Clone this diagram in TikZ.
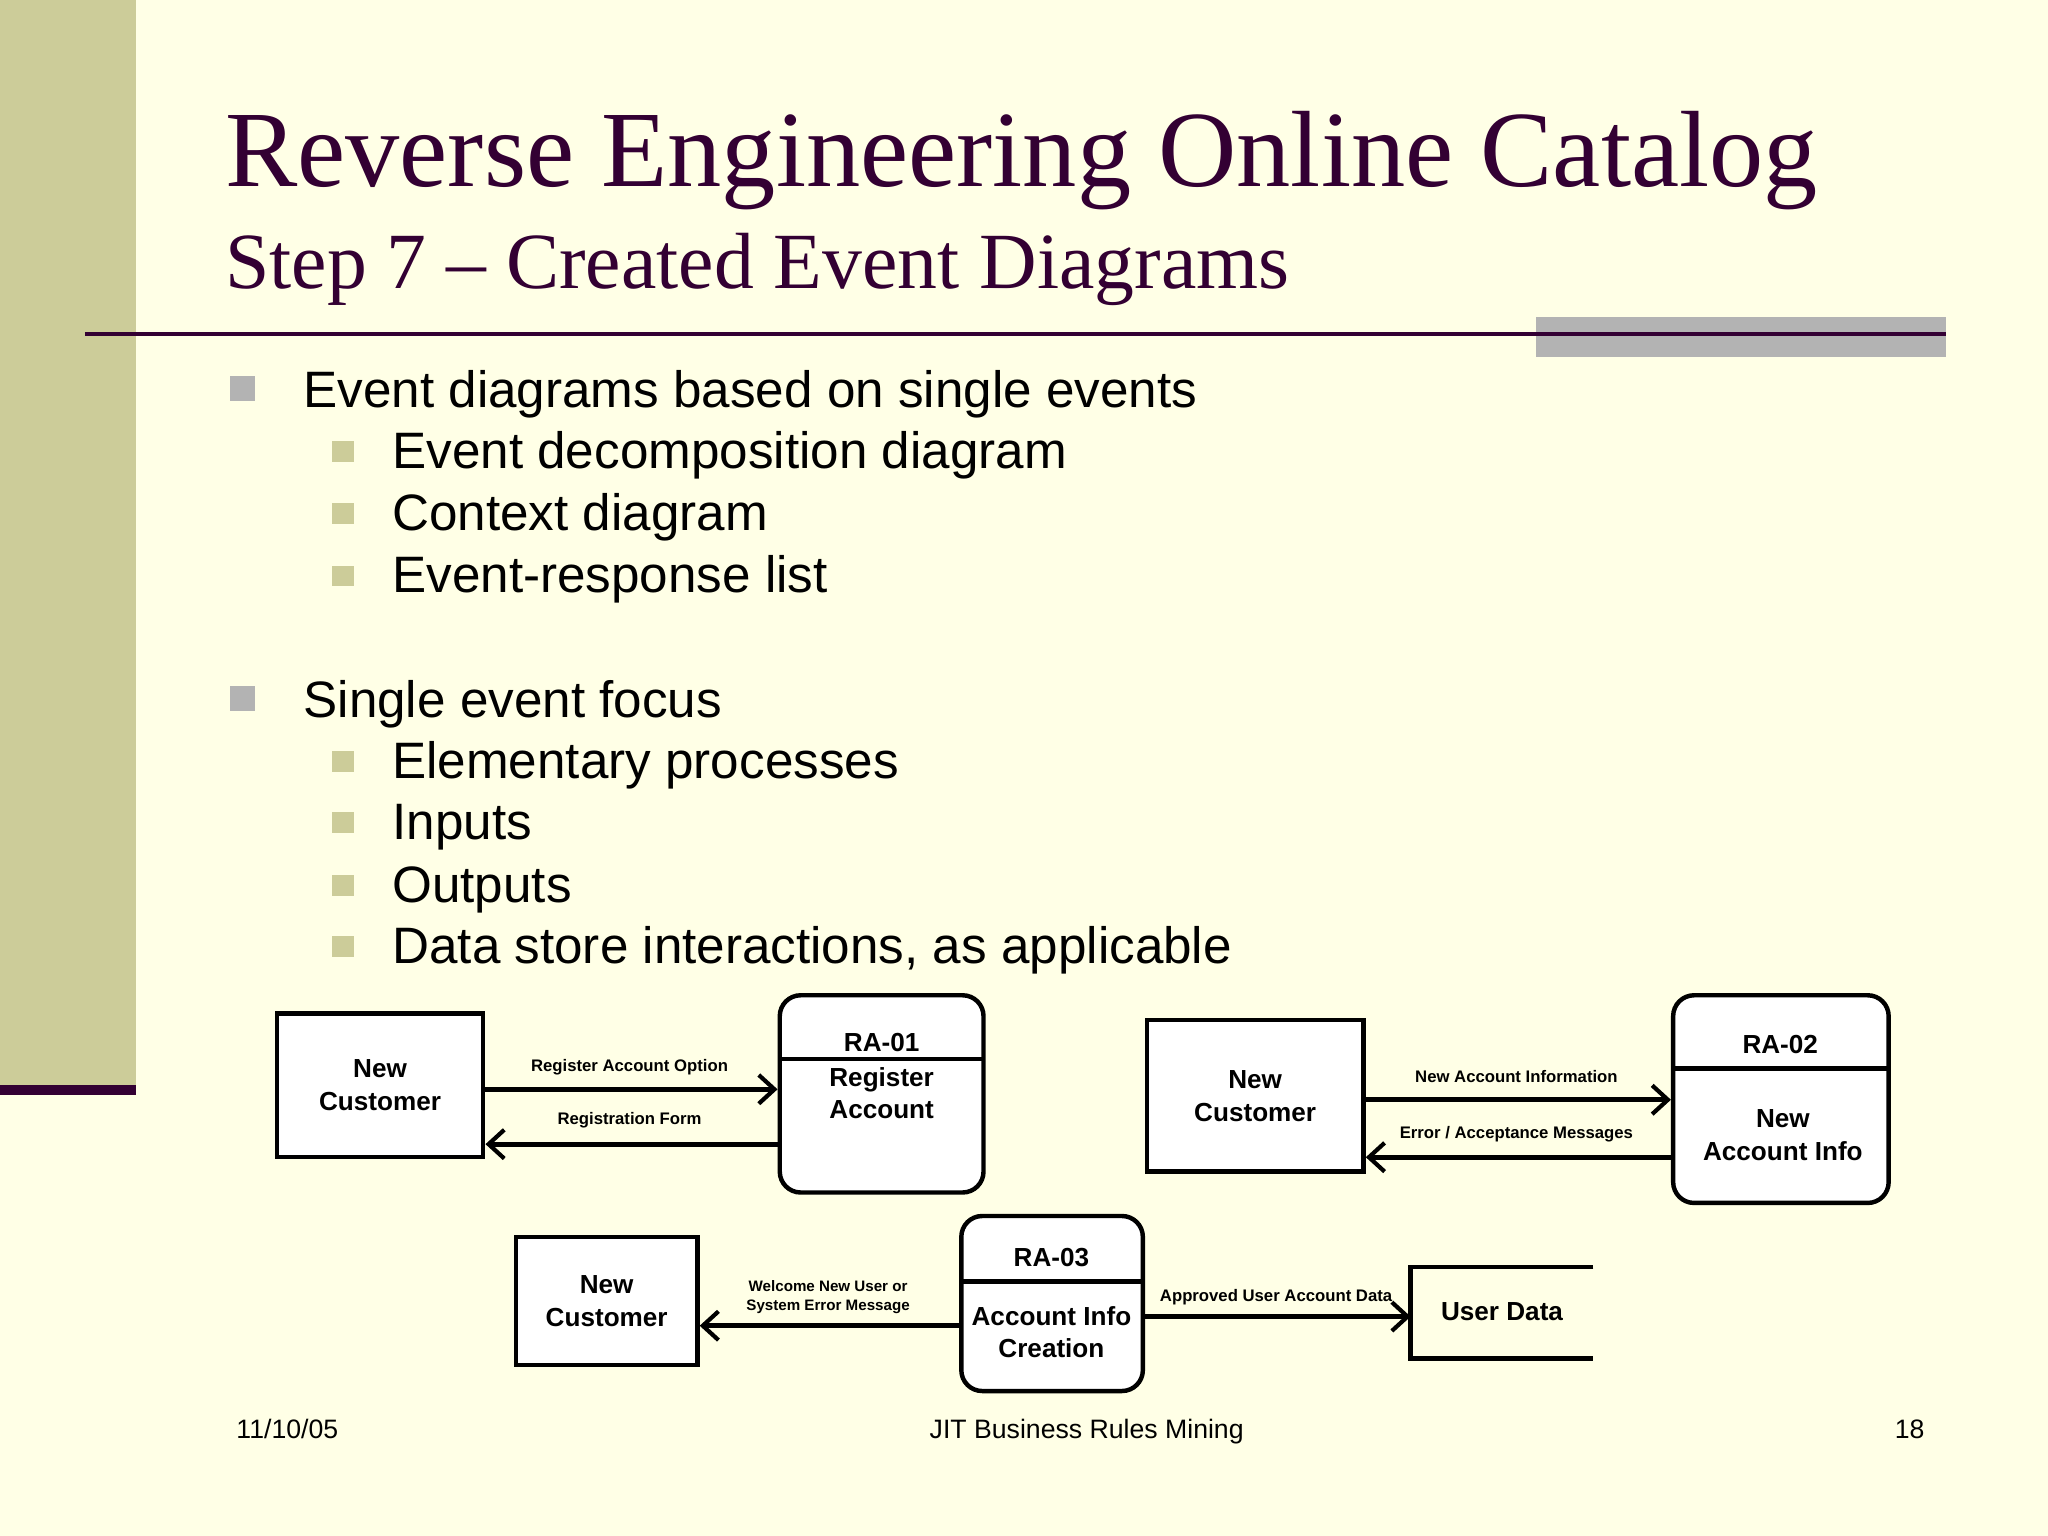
\documentclass[tikz,border=0pt]{standalone}
\usepackage{fontspec}
\setmainfont{Liberation Sans}
\newfontfamily\serifT{Liberation Serif}
\usetikzlibrary{arrows.meta}
\definecolor{bg}{HTML}{FFFFE6}
\definecolor{olive}{HTML}{CCCC99}
\definecolor{dpurple}{HTML}{330033}
\definecolor{gbul}{HTML}{B3B3B3}
\begin{document}
\begin{tikzpicture}[x=0.5pt,y=-0.5pt,
 box/.style={draw,line width=1.7pt,fill=white,minimum width=#1},
 proc/.style={draw,line width=1.7pt,fill=white,rounded corners=8pt},
 arr/.style={line width=1.8pt,-{Straight Barb[length=6pt,width=11pt,line width=1.6pt]}},
 lab/.style={font=\fontsize{6.4}{7.5}\selectfont\bfseries,align=center},
 btxt/.style={font=\fontsize{10}{12.5}\selectfont\bfseries,align=center},
 b1/.style={anchor=base west,font=\fontsize{19.6}{22}\selectfont},
 ft/.style={font=\fontsize{10.2}{12}\selectfont,anchor=base}]
\useasboundingbox (0,0) rectangle (1568,1176);
\fill[bg] (0,0) rectangle (1568,1176);
\fill[olive] (0,0) rectangle (104,835);
\fill[dpurple] (0,831) rectangle (104,838);
\fill[gbul] (1176,243) rectangle (1490,273);
\draw[dpurple,line width=1.5pt] (65,256) -- (1490,256);
\node[anchor=base west,text=dpurple,font=\serifT\fontsize{41.5}{45}\selectfont,inner sep=0] (t1) at (172,143) {Reverse Engineering Online Catalog};
\node[anchor=base west,text=dpurple,font=\serifT\fontsize{30.5}{35}\selectfont,inner sep=0] (t2) at (172,221) {Step 7 – Created Event Diagrams};
% bullets
\foreach \y/\t in {299/Event diagrams based on single events,536/Single event focus}{
 \fill[gbul] (176,\y-11) rectangle ++(19,19);
 \node[b1,inner sep=0] at (232,\y+13) {\t};}
\foreach \y/\t in {346/Event decomposition diagram,393/Context diagram,441/Event-response list,583/Elementary processes,630/Inputs,678/Outputs,725/{Data store interactions, as applicable}}{
 \fill[olive] (254,\y-8) rectangle ++(17,16);
 \node[b1,inner sep=0] at (300,\y+13) {\t};}
% diagram 1
\node[box=79pt,minimum height=55pt,btxt] (c1) at (291,831) {New\\Customer};
\node[proc,minimum width=78pt,minimum height=75.5pt] (p1) at (675,837.5) {};
\draw[line width=1.7pt] (597,811) -- (753,811);
\node[btxt] at (675,798) {RA-01};
\node[btxt] at (675,837) {Register\\Account};
\draw[arr] (c1.east |- 0,834) -- (p1.west |- 0,834);
\draw[arr] (p1.west |- 0,876) -- (c1.east |- 0,876);
\node[lab] at (482,817) {Register Account Option};
\node[lab] at (482,858) {Registration Form};
% diagram 2
\node[box=83pt,minimum height=58pt,btxt] (c2) at (961,839) {New\\Customer};
\node[proc,minimum width=82.5pt,minimum height=79.5pt] (p2) at (1363.5,841.5) {};
\draw[line width=1.7pt] (1281,818) -- (1446,818);
\node[btxt] at (1363,800) {RA-02};
\node[btxt] at (1365,869) {New\\Account Info};
\draw[arr] (c2.east |- 0,842) -- (p2.west |- 0,842);
\draw[arr] (p2.west |- 0,886) -- (c2.east |- 0,886);
\node[lab] at (1161,824) {New Account Information};
\node[lab] at (1161,868) {Error / Acceptance Messages};
% diagram 3
\node[box=69.5pt,minimum height=49pt,btxt] (c3) at (464.5,996) {New\\Customer};
\node[proc,minimum width=69.5pt,minimum height=67pt] (p3) at (805.5,998) {};
\draw[line width=1.7pt] (736,981) -- (875,981);
\node[btxt] at (805,963) {RA-03};
\node[btxt] at (805,1020) {Account Info\\Creation};
\coordinate (ds) at (1080,1008);
\draw[line width=1.7pt] (1220,970) -- (1080,970) -- (1080,1040) -- (1220,1040);
\node[btxt] (ud) at (1150,1004) {User Data};
\draw[arr] (p3.west |- 0,1015) -- (c3.east |- 0,1015);
\draw[arr] (p3.east |- 0,1008) -- (ds);
\node[lab,font=\fontsize{5.8}{7}\selectfont\bfseries] at (634,993) {Welcome New User or\\System Error Message};
\node[lab] at (977,993) {Approved User Account Data};
% footer
\node[ft] at (220,1101) {11/10/05};
\node[ft] at (832,1101) {JIT Business Rules Mining};
\node[ft] at (1462,1101) {18};
\end{tikzpicture}
\end{document}
